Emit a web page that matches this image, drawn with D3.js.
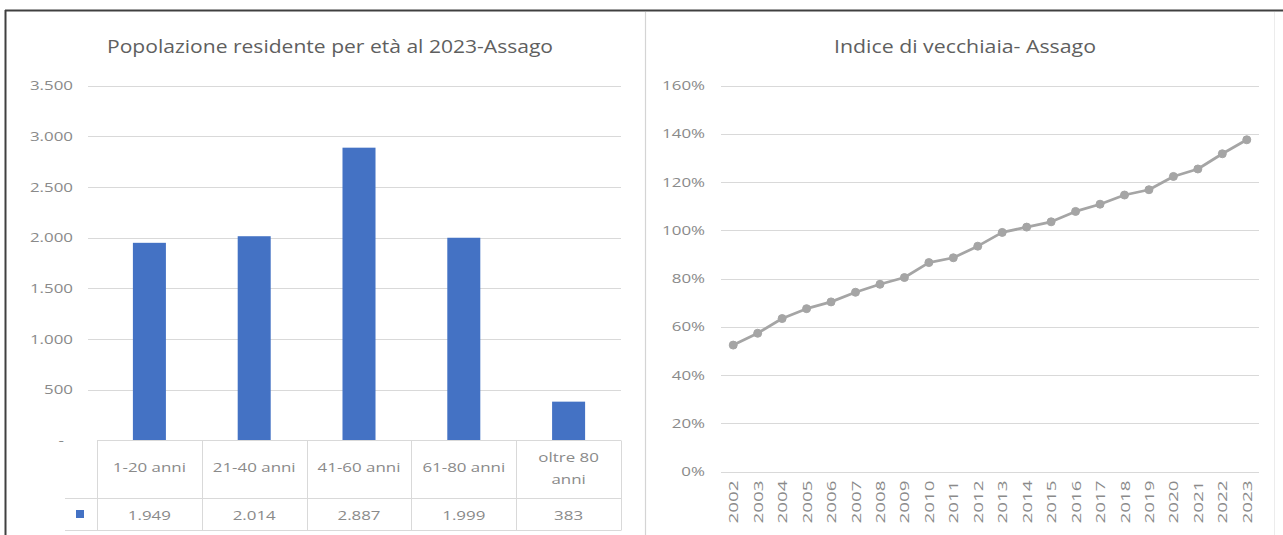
<!DOCTYPE html>
<html>
<head>
<meta charset="utf-8">
<script src="https://cdn.jsdelivr.net/npm/d3@7"></script>
<style>
  html, body { margin: 0; padding: 0; background: #fff; }
  svg { display: block; }
  text { font-family: "Open Sans", Lato, sans-serif; }
</style>
</head>
<body>
<svg id="chart" width="1283" height="535"></svg>
<script>
// ---------- DATA ----------
const ageTitle = "Popolazione residente per età al 2023-Assago";
const ageCategories = ["1-20 anni", "21-40 anni", "41-60 anni", "61-80 anni", "oltre 80 anni"];
const ageLabelLines = [["1-20 anni"], ["21-40 anni"], ["41-60 anni"], ["61-80 anni"], ["oltre 80", "anni"]];
const ageValues = [1949, 2014, 2887, 1999, 383];
const ageTicks = [0, 500, 1000, 1500, 2000, 2500, 3000, 3500];

const oldTitle = "Indice di vecchiaia- Assago";
const years = ["2002","2003","2004","2005","2006","2007","2008","2009","2010","2011","2012",
               "2013","2014","2015","2016","2017","2018","2019","2020","2021","2022","2023"];
const oldIndex = [52.4, 57.3, 63.4, 67.5, 70.3, 74.3, 77.6, 80.4, 86.6, 88.6, 93.4,
                  99.1, 101.3, 103.5, 107.8, 110.8, 114.6, 116.8, 122.3, 125.4, 131.7, 137.5];
const oldTicks = [0, 20, 40, 60, 80, 100, 120, 140, 160];

// ---------- SETUP ----------
const svg = d3.select("#chart");
const itLocale = d3.formatLocale({decimal: ",", thousands: ".", grouping: [3], currency: ["", "€"]});
const fmtThousands = itLocale.format(",d");

const gridColor = "#d9d9d9";
const tickColor = "#8a8a8a";
const titleColor = "#5f5f5f";
const barColor = "#4472c4";
const lineColor = "#a5a5a5";
const stretch = 1.3;

// outer frame
svg.append("line").attr("x1", 5).attr("x2", 1283).attr("y1", 10.5).attr("y2", 10.5)
  .attr("stroke", "#404040").attr("stroke-width", 2);
svg.append("line").attr("x1", 5.5).attr("x2", 5.5).attr("y1", 10).attr("y2", 535)
  .attr("stroke", "#404040").attr("stroke-width", 2);
// divider between panels
svg.append("line").attr("x1", 645.5).attr("x2", 645.5).attr("y1", 12).attr("y2", 535)
  .attr("stroke", "#d4d4d4").attr("stroke-width", 1.2);
svg.append("line").attr("x1", 1274.5).attr("x2", 1274.5).attr("y1", 12).attr("y2", 535)
  .attr("stroke", "#ececec").attr("stroke-width", 1);

// ---------- LEFT CHART ----------
const L = {x0: 97, x1: 621, yTop: 85.5, yBase: 440.5};
const xL = d3.scaleBand().domain(ageCategories).range([L.x0, L.x1]).paddingInner(0.685).paddingOuter(0.3425);
const yL = d3.scaleLinear().domain([0, 3500]).range([L.yBase, L.yTop]);

const gL = svg.append("g");
gL.append("text").attr("x", 330).attr("y", 53).attr("text-anchor", "middle")
  .attr("font-size", 19).attr("fill", titleColor)
  .attr("textLength", 446).attr("lengthAdjust", "spacingAndGlyphs").text(ageTitle);

// gridlines
gL.selectAll("line.grid").data(ageTicks.filter(d => d > 0)).join("line")
  .attr("x1", 88).attr("x2", L.x1).attr("y1", d => Math.round(yL(d)) + 0.5).attr("y2", d => Math.round(yL(d)) + 0.5)
  .attr("stroke", gridColor).attr("stroke-width", 1);

// y axis labels via d3 axis
const axL = d3.axisLeft(yL).tickValues(ageTicks)
  .tickFormat(d => d === 0 ? "-" : fmtThousands(d)).tickSize(0).tickPadding(0);
const axLg = gL.append("g").attr("transform", "translate(73,0)").call(axL);
axLg.select(".domain").remove();
axLg.selectAll("text").attr("font-size", 13).attr("fill", tickColor)
  .attr("font-family", "'Open Sans', sans-serif")
  .attr("transform", `scale(${stretch},1)`);
axLg.selectAll(".tick").filter(d => d === 0).select("text").attr("dx", -7);

// bars
gL.selectAll("rect.bar").data(ageValues).join("rect")
  .attr("x", (d, i) => xL(ageCategories[i])).attr("width", xL.bandwidth())
  .attr("y", d => yL(d)).attr("height", d => L.yBase - yL(d)).attr("fill", barColor);

// data table
const rowSep = 498.5, rowBottom = 530.5;
const step = xL.step();
const bounds = d3.range(ageCategories.length + 1).map(i => L.x0 + i * step);
gL.append("line").attr("x1", L.x0).attr("x2", L.x1).attr("y1", L.yBase).attr("y2", L.yBase)
  .attr("stroke", gridColor);
gL.append("line").attr("x1", 65).attr("x2", L.x1).attr("y1", rowSep).attr("y2", rowSep).attr("stroke", gridColor);
gL.append("line").attr("x1", 65).attr("x2", L.x1).attr("y1", rowBottom).attr("y2", rowBottom).attr("stroke", gridColor);
gL.selectAll("line.vb").data(bounds).join("line")
  .attr("x1", d => Math.round(d) + 0.5).attr("x2", d => Math.round(d) + 0.5)
  .attr("y1", L.yBase).attr("y2", rowBottom).attr("stroke", gridColor);

ageLabelLines.forEach((lines, i) => {
  const cx = xL(ageCategories[i]) + xL.bandwidth() / 2;
  const t = gL.append("text").attr("text-anchor", "middle").attr("font-size", 13).attr("fill", tickColor)
    .attr("transform", `translate(${cx},0) scale(${stretch},1)`);
  const startY = lines.length === 1 ? 472 : 462;
  lines.forEach((ln, j) => t.append("tspan").attr("x", 0).attr("y", startY + j * 22).text(ln));
});
gL.selectAll("text.val").data(ageValues).join("text")
  .attr("transform", (d, i) => `translate(${xL(ageCategories[i]) + xL.bandwidth() / 2},520) scale(${stretch},1)`)
  .attr("text-anchor", "middle").attr("font-size", 13).attr("fill", tickColor)
  .text(d => fmtThousands(d));
gL.append("rect").attr("x", 76).attr("y", 510).attr("width", 8).attr("height", 8).attr("fill", barColor);

// ---------- RIGHT CHART ----------
const R = {x0: 721, x1: 1259, yTop: 85.5, yBase: 471.5};
const xR = d3.scaleBand().domain(years).range([R.x0, R.x1]).padding(0);
const yR = d3.scaleLinear().domain([0, 160]).range([R.yBase, R.yTop]);
const gR = svg.append("g");

gR.append("text").attr("x", 965).attr("y", 53).attr("text-anchor", "middle")
  .attr("font-size", 19).attr("fill", titleColor)
  .attr("textLength", 262).attr("lengthAdjust", "spacingAndGlyphs").text(oldTitle);

gR.selectAll("line.grid").data(oldTicks).join("line")
  .attr("x1", R.x0).attr("x2", R.x1).attr("y1", d => Math.round(yR(d)) + 0.5).attr("y2", d => Math.round(yR(d)) + 0.5)
  .attr("stroke", gridColor);

const axR = d3.axisLeft(yR).tickValues(oldTicks).tickFormat(d => d + "%").tickSize(0).tickPadding(0);
const axRg = gR.append("g").attr("transform", "translate(705,0)").call(axR);
axRg.select(".domain").remove();
axRg.selectAll("text").attr("font-size", 13).attr("fill", tickColor)
  .attr("font-family", "'Open Sans', sans-serif")
  .attr("transform", `scale(${stretch},1)`);

const axX = d3.axisBottom(xR).tickSize(0).tickPadding(0);
const axXg = gR.append("g").attr("transform", `translate(0,${R.yBase})`).call(axX);
axXg.select(".domain").remove();
axXg.selectAll("text").attr("font-size", 13).attr("fill", tickColor)
  .attr("font-family", "'Open Sans', sans-serif")
  .attr("text-anchor", "end").attr("dy", null).attr("y", 0)
  .attr("transform", "translate(5,9) rotate(-90) scale(1.45,1)");

const cx = d => xR(d) + xR.bandwidth() / 2;
const line = d3.line().x((d, i) => cx(years[i])).y(d => yR(d));
gR.append("path").datum(oldIndex).attr("d", line).attr("fill", "none")
  .attr("stroke", lineColor).attr("stroke-width", 2.75).attr("stroke-linejoin", "round");
gR.selectAll("circle.pt").data(oldIndex).join("circle")
  .attr("cx", (d, i) => cx(years[i])).attr("cy", d => yR(d)).attr("r", 4)
  .attr("fill", lineColor).attr("stroke", lineColor);
</script>
</body>
</html>
